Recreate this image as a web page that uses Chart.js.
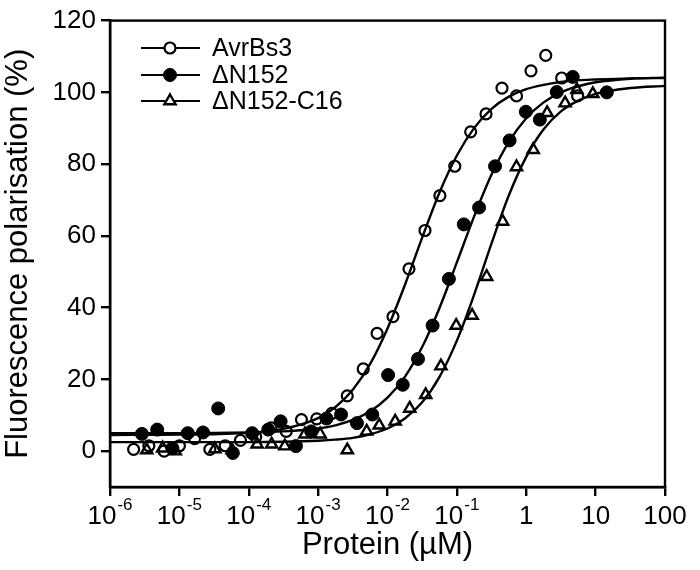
<!DOCTYPE html>
<html>
<head>
<meta charset="utf-8">
<script src="https://cdn.jsdelivr.net/npm/chart.js@4.4.1/dist/chart.umd.min.js"></script>
<style>
  body { margin: 0; background: #fff; }
</style>
</head>
<body>
<canvas id="fpChart" width="700" height="570"></canvas>
<script>
// DATA: polarisation de fluorescence en fonction de la concentration de proteine (uM)
var seriesNames = ['AvrBs3', '\u0394N152', '\u0394N152-C16'];

var avrConc = [2.19e-6, 3.63e-6, 6.03e-6, 1.0e-5, 1.66e-5, 2.75e-5, 4.57e-5, 7.59e-5, 1.26e-4, 2.09e-4, 3.47e-4, 5.75e-4, 9.55e-4, 1.58e-3, 2.63e-3, 4.47e-3, 7.08e-3, 0.0120, 0.0204, 0.0347, 0.0569, 0.0933, 0.158, 0.263, 0.447, 0.724, 1.17, 1.91, 3.24, 5.5];
var avrFP   = [0.5, 1.5, 0, 1.5, 3.5, 0.5, 1.5, 3, 4, 6.5, 5.5, 8.8, 9, 10.5, 15.4, 22.9, 32.8, 37.5, 50.8, 61.5, 71.2, 79.4, 89, 94, 101.2, 99, 106, 110.3, 104, 99];

var n152Conc = [2.88e-6, 4.79e-6, 7.94e-6, 1.32e-5, 2.19e-5, 3.63e-5, 5.89e-5, 1.12e-4, 1.91e-4, 2.88e-4, 4.79e-4, 7.94e-4, 1.32e-3, 2.14e-3, 3.63e-3, 6.03e-3, 0.0102, 0.0166, 0.0275, 0.0447, 0.0767, 0.126, 0.209, 0.355, 0.575, 0.986, 1.57, 2.75, 4.68, 14.5];
var n152FP   = [4.8, 6, 0.8, 5, 5.2, 11.9, -0.5, 5, 6, 8.3, 1.4, 5.5, 9.1, 10.2, 7.8, 10.2, 21.2, 18.5, 25.7, 35, 48, 63.2, 67.9, 79.4, 86.6, 94.6, 92.4, 100.1, 104.3, 100];

var c16Conc = [3.39e-6, 5.75e-6, 8.71e-6, 3.24e-5, 5.75e-5, 1.32e-4, 2.14e-4, 3.31e-4, 6.46e-4, 1.07e-3, 2.63e-3, 5.01e-3, 7.59e-3, 0.0129, 0.0209, 0.0355, 0.0589, 0.0977, 0.166, 0.269, 0.457, 0.724, 1.26, 2.0, 3.63, 5.37, 9.12];
var c16FP   = [0.3, 0.8, 0, 0.6, 0.3, 1.9, 1.9, 1.4, 4.7, 4.7, 0.3, 5.5, 7.2, 8.3, 11.9, 15.7, 23.7, 35, 37.8, 48.6, 64, 79.2, 84, 94.3, 97, 100.7, 99.6];

// courbes ajustees
var fitConc = [1e-6, 1e-5, 1e-4, 3.16e-4, 1e-3, 1.78e-3, 3.16e-3, 5.62e-3, 0.01, 0.0178, 0.0316, 0.0562, 0.1, 0.178, 0.316, 0.562, 1, 1.78, 3.16, 5.62, 10, 31.6, 100];
var avrFit  = [4.5, 4.6, 5.1, 6.2, 9.2, 12.3, 17.1, 24.3, 34.2, 46.3, 59.5, 72.1, 82.4, 90.1, 95.4, 98.8, 100.9, 102.1, 102.9, 103.4, 103.6, 103.9, 104.0];
var n152Fit = [5.0, 5.0, 5.2, 5.5, 6.3, 7.2, 8.7, 11.1, 14.9, 20.7, 29.0, 39.9, 52.6, 65.5, 77.1, 86.2, 92.8, 97.2, 100.0, 101.7, 102.8, 103.8, 104.1];
var c16Fit  = [2.5, 2.5, 2.5, 2.6, 2.9, 3.2, 3.7, 4.7, 6.3, 9.1, 13.6, 20.7, 30.8, 43.7, 57.9, 71.3, 82.0, 89.7, 94.7, 97.7, 99.6, 101.2, 101.8];

var xTicks = [1e-6, 1e-5, 1e-4, 1e-3, 1e-2, 1e-1, 1, 10, 100];
var xTickBase = ['10', '10', '10', '10', '10', '10', '1', '10', '100'];
var xTickExp  = ['-6', '-5', '-4', '-3', '-2', '-1', '', '', ''];
var yTicks = [0, 20, 40, 60, 80, 100, 120];

function pts(xs, ys) {
  return xs.map(function (x, i) { return { x: x, y: ys[i] }; });
}

var FONT = "'Liberation Sans', Arial, Helvetica, sans-serif";
var markers = [
  { pointStyle: 'circle', radius: 5.5, bg: 'rgba(0,0,0,0)', legendBg: '#fff', bw: 2.2 },
  { pointStyle: 'circle', radius: 6.5, bg: '#000', legendBg: '#000', bw: 1 },
  { pointStyle: 'triangle', radius: 6.5, bg: 'rgba(0,0,0,0)', legendBg: '#fff', bw: 2.4 }
];

function scatterSet(i, data) {
  return {
    label: seriesNames[i],
    data: data,
    showLine: false,
    pointStyle: markers[i].pointStyle,
    pointRadius: markers[i].radius,
    pointBackgroundColor: markers[i].bg,
    pointBorderColor: '#000',
    pointBorderWidth: markers[i].bw,
    order: 2
  };
}
function fitSet(data) {
  return {
    label: 'fit',
    data: data,
    showLine: true,
    pointRadius: 0,
    borderColor: '#000',
    borderWidth: 2.4,
    cubicInterpolationMode: 'monotone',
    fill: false,
    order: 1
  };
}

// cadre + etiquettes 10^n + legende
var decorPlugin = {
  id: 'decor',
  afterDraw: function (chart) {
    var ctx = chart.ctx, a = chart.chartArea;
    ctx.save();
    ctx.strokeStyle = '#000';
    ctx.lineWidth = 2.4;
    ctx.strokeRect(a.left, a.top, a.right - a.left, a.bottom - a.top);

    // x tick labels
    var xs = chart.scales.x;
    ctx.fillStyle = '#000';
    ctx.textBaseline = 'alphabetic';
    ctx.textAlign = 'left';
    for (var i = 0; i < xTicks.length; i++) {
      var px = xs.getPixelForValue(xTicks[i]);
      ctx.font = '26px ' + FONT;
      var wb = ctx.measureText(xTickBase[i]).width;
      ctx.font = '17px ' + FONT;
      var we = xTickExp[i] ? ctx.measureText(xTickExp[i]).width + 1 : 0;
      var x0 = px - (wb + we) / 2;
      ctx.font = '26px ' + FONT;
      ctx.fillText(xTickBase[i], x0, 524);
      if (xTickExp[i]) {
        ctx.font = '17px ' + FONT;
        ctx.fillText(xTickExp[i], x0 + wb + 1, 510);
      }
    }

    // legende
    var rows = [48, 75, 101];
    for (var j = 0; j < 3; j++) {
      var y = rows[j];
      ctx.strokeStyle = '#000';
      ctx.beginPath();
      ctx.lineWidth = 2.2;
      ctx.moveTo(141, y);
      ctx.lineTo(200, y);
      ctx.stroke();
      var m = markers[j];
      ctx.lineWidth = m.bw;
      ctx.fillStyle = m.legendBg;
      Chart.helpers.drawPoint(ctx, { pointStyle: m.pointStyle, radius: m.radius, borderWidth: m.bw, rotation: 0 }, 170, y);
      ctx.fillStyle = '#000';
      ctx.font = '25px ' + FONT;
      ctx.textBaseline = 'middle';
      ctx.fillText(seriesNames[j], 212, y + 1);
    }
    ctx.restore();
  }
};

var ctx = document.getElementById('fpChart').getContext('2d');
var fpChart = new Chart(ctx, {
  type: 'scatter',
  data: {
    datasets: [
      fitSet(pts(fitConc, avrFit)),
      fitSet(pts(fitConc, n152Fit)),
      fitSet(pts(fitConc, c16Fit)),
      scatterSet(0, pts(avrConc, avrFP)),
      scatterSet(1, pts(n152Conc, n152FP)),
      scatterSet(2, pts(c16Conc, c16FP))
    ]
  },
  options: {
    responsive: false,
    animation: false,
    layout: { padding: { top: 15, right: 35, left: 0, bottom: 0 } },
    scales: {
      x: {
        type: 'logarithmic',
        min: 1e-6,
        max: 100,
        afterBuildTicks: function (s) { s.ticks = xTicks.map(function (v) { return { value: v }; }); },
        afterFit: function (s) { s.height = 83; },
        ticks: { display: false },
        grid: { drawOnChartArea: false, drawTicks: true, tickLength: 9, color: '#000', lineWidth: 2.4 },
        border: { color: '#000', width: 2.4 },
        title: { display: true, text: 'Protein (\u00b5M)', font: { family: FONT, size: 31 }, color: '#000', padding: { top: 0, bottom: 6 } }
      },
      y: {
        min: -10,
        max: 120,
        afterBuildTicks: function (s) { s.ticks = yTicks.map(function (v) { return { value: v }; }); },
        afterFit: function (s) { s.width = 110; },
        ticks: { font: { family: FONT, size: 26 }, color: '#000', padding: 5 },
        grid: { drawOnChartArea: false, drawTicks: true, tickLength: 9, color: '#000', lineWidth: 2.4 },
        border: { color: '#000', width: 2.4 },
        title: { display: true, text: 'Fluorescence polarisation (%)', font: { family: FONT, size: 31 }, color: '#000', padding: { top: 0, bottom: 0 } }
      }
    },
    plugins: {
      legend: { display: false },
      tooltip: { enabled: false }
    }
  },
  plugins: [decorPlugin]
});
</script>
</body>
</html>
